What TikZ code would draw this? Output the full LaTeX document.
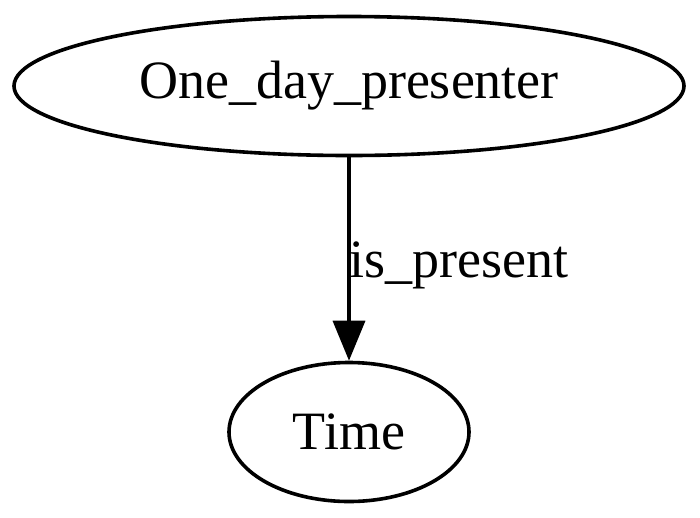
\documentclass[tikz,border=0pt]{standalone}
\usepackage{fontspec}
\setmainfont{Liberation Serif}
\usetikzlibrary{shapes.geometric,arrows.meta}
\begin{document}
\begin{tikzpicture}[x=1pt,y=-1pt,
  gnode/.style={draw,ellipse,line width=3.6pt,inner sep=0pt,font=\fontsize{54}{64}\selectfont},
  gedge/.style={line width=3.6pt,-{Triangle[length=40pt,width=32pt]}},
  elabel/.style={font=\fontsize{54}{64}\selectfont,inner sep=0pt}]
\useasboundingbox (0,0) rectangle (700,517);
\node[gnode,minimum width=670pt,minimum height=139pt] (a) at (349,86) {One\_day\_presenter};
\node[gnode,minimum width=240pt,minimum height=139pt] (b) at (349,432) {Time};
\draw[gedge] (a) -- (b) node[elabel,pos=0.5,anchor=west,xshift=-1pt,yshift=-6pt] (l) {is\_present};
\end{tikzpicture}
\end{document}
